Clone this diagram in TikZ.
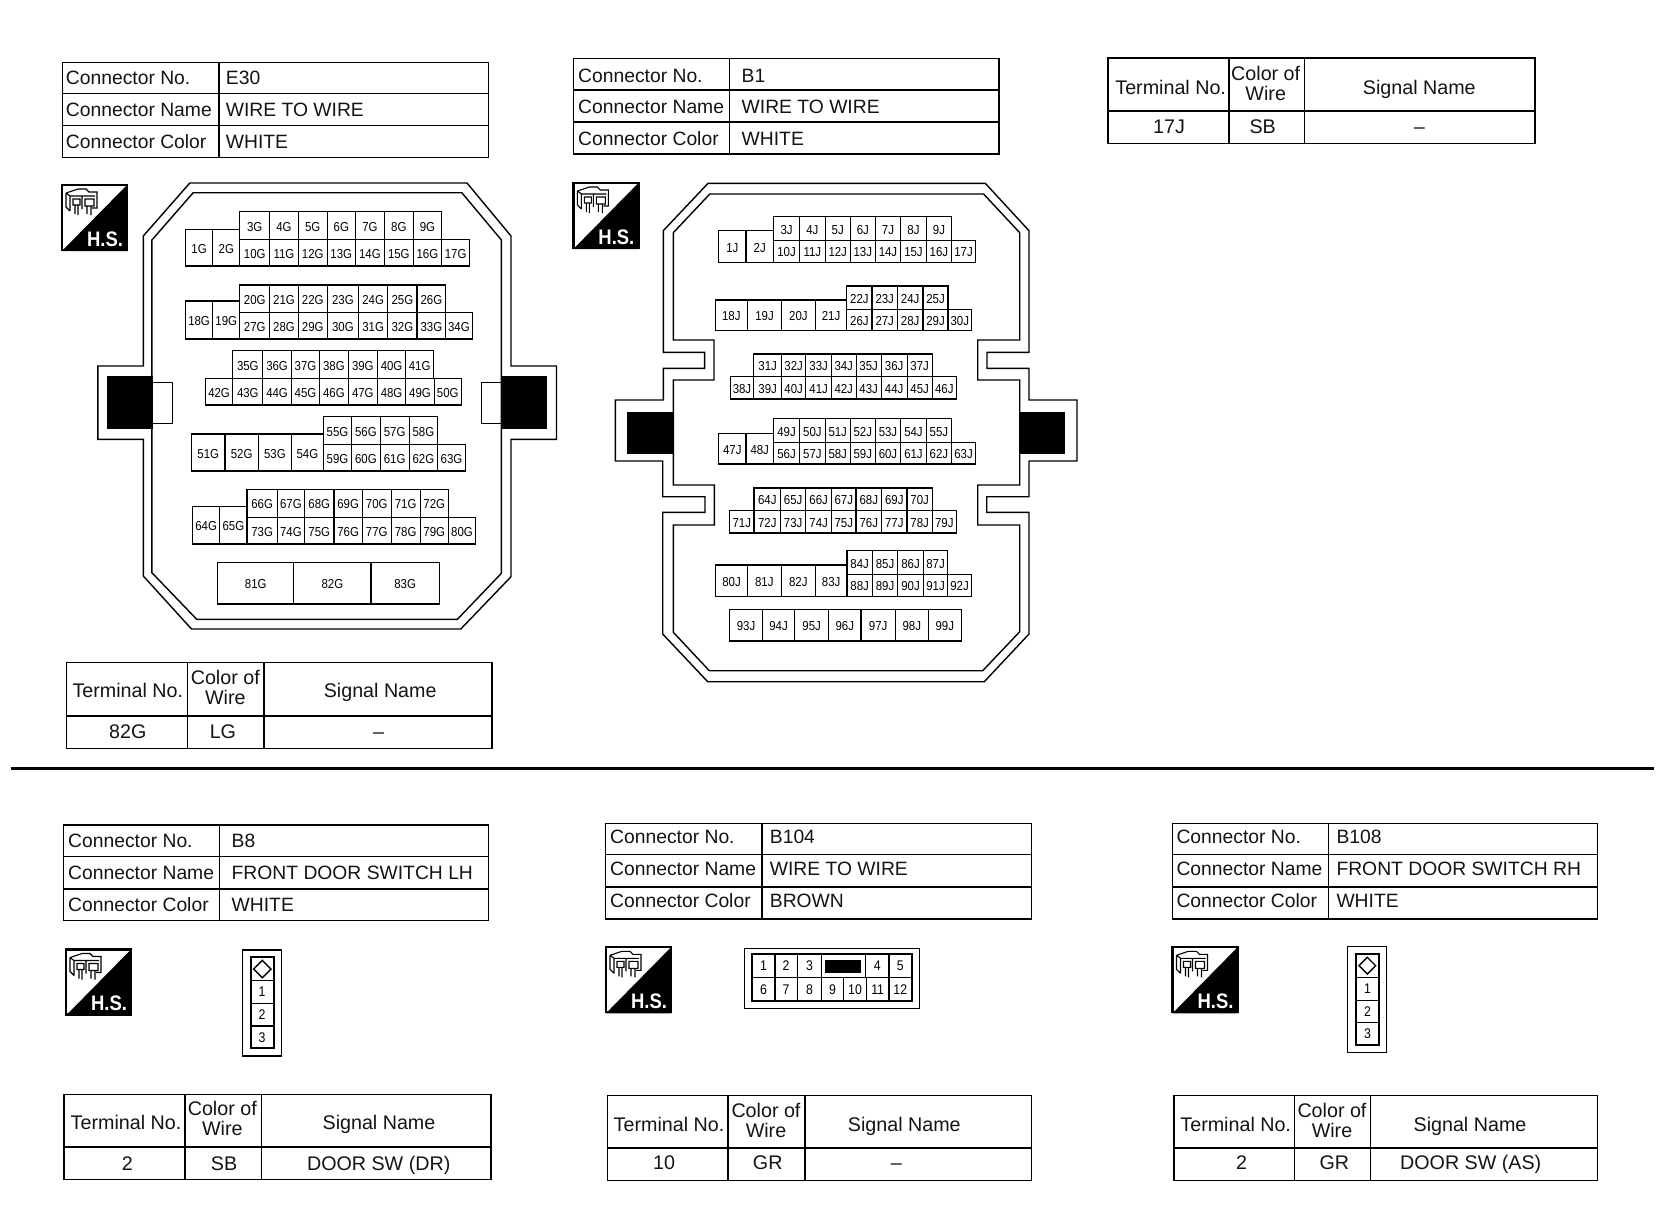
\documentclass[tikz,border=0pt]{standalone}
\usepackage{fontspec}
\setmainfont{Liberation Sans}
\newfontfamily\cellfont[FakeStretch=0.88]{Liberation Sans}
\newfontfamily\hsfont[FakeStretch=0.88]{Liberation Sans Bold}
\tikzset{
  lab/.style={font=\fontsize{19.3}{19.3}\selectfont,text height=13.8pt,text depth=0pt,inner sep=0pt,text=black!92},
  labt/.style={font=\fontsize{19.7}{19.7}\selectfont,text height=14pt,text depth=0pt,inner sep=0pt,text=black!92},
  cell/.style={draw,line width=1.2pt,inner sep=0pt,text height=11.3pt,text depth=0pt,font=\cellfont\fontsize{13}{13}\selectfont},
  bigcell/.style={cell/.append style={line width=1.3pt,text height=9.8pt,font=\cellfont\fontsize{14}{14}\selectfont}},
  tbl/.style={line width=1.5pt},
  tblmid/.style={line width=2.2pt},
  contour/.style={line width=1.4pt,line join=miter},
  hstxt/.style={font=\hsfont\fontsize{21}{21}\selectfont,text=white,inner sep=0pt,text height=15pt,text depth=0pt},
}
% cell row: prefix, y0, y1, x0, list of label/xend
\newcommand\cellrow[5]{%
  \foreach \lbl/\xe [remember=\xe as \xs (initially #4)] in {#5}{%
    \pgfmathsetmacro\cw{(\xe-\xs)*\sx}%
    \pgfmathsetmacro\ch{(#3-#2)*\sy}%
    \node[cell,minimum width=\cw pt,minimum height=\ch pt] (#1\lbl) at ({(\xs+\xe)/2},{(#2+#3)/2}) {\lbl};
  }}
\def\gdy{0}
\newcommand\setG[9]{\def\gxa{#1}\def\gxb{#2}\def\gxc{#3}\def\gya{#4}\def\gyb{#5}\def\gyc{#6}\def\gyd{#7}\def\glx{#8}\def\grx{#9}}
\newcommand\conntable[4]{%
  \draw[tbl] (\gxa,\gya) rectangle (\gxc,\gyd);
  \draw[tbl] (\gxb,\gya) -- (\gxb,\gyd) (\gxa,\gyb) -- (\gxc,\gyb) (\gxa,\gyc) -- (\gxc,\gyc);
  \node[lab,anchor=west] (#1noL) at (\glx,{(\gya+\gyb)/2+\gdy}) {Connector No.};
  \node[lab,anchor=west] (#1naL) at (\glx,{(\gyb+\gyc)/2+\gdy}) {Connector Name};
  \node[lab,anchor=west] (#1coL) at (\glx,{(\gyc+\gyd)/2+\gdy}) {Connector Color};
  \node[lab,anchor=west] (#1noV) at (\grx,{(\gya+\gyb)/2+\gdy}) {#2};
  \node[lab,anchor=west] (#1naV) at (\grx,{(\gyb+\gyc)/2+\gdy}) {#3};
  \node[lab,anchor=west] (#1coV) at (\grx,{(\gyc+\gyd)/2+\gdy}) {#4};
}
\newcommand\setT[7]{\def\txa{#1}\def\txb{#2}\def\txc{#3}\def\txd{#4}\def\tya{#5}\def\tyb{#6}\def\tyc{#7}}
\newcommand\setL[8]{\def\lxt{#1}\def\lxc{#2}\def\lxs{#3}\def\lyh{#4}\def\lxv{#5}\def\lxw{#6}\def\lxd{#7}\def\lyv{#8}}
\newcommand\termtable[4]{%
  \draw[tbl] (\txa,\tya) rectangle (\txd,\tyc);
  \draw[tbl] (\txb,\tya) -- (\txb,\tyc) (\txc,\tya) -- (\txc,\tyc);
  \draw[tblmid] (\txa,\tyb) -- (\txd,\tyb);
  \node[labt] (#1tn) at (\lxt,{\lyh+4}) {Terminal No.};
  \node[labt] (#1cw) at (\lxc,{\lyh-9.5}) {Color of};
  \node[labt] (#1wi) at (\lxc,{\lyh+10.5}) {Wire};
  \node[labt] (#1sn) at (\lxs,{\lyh+4}) {Signal Name};
  \node[labt] (#1va) at (\lxv,\lyv) {#2};
  \node[labt] (#1wv) at (\lxw,\lyv) {#3};
  \node[labt] (#1sv) at (\lxd,\lyv) {#4};
}
\newcommand\hsicon[3]{%
  \begin{scope}[shift={(#2,#3)}]
    \fill[white] (0,0) rectangle (67,67);
    \fill[black] (66,1) -- (66,67) -- (1,67) -- cycle;
    \draw[line width=2.2pt] (1,1) rectangle (66,66);
    \draw[line width=1.1pt] (5,9) -- (14,6) -- (17,5) -- (25,5) -- (28,8) -- (36,8) -- (36,24) -- (31,24)
      (5,9) -- (5,23) -- (9,27) (5,9) -- (9,12) -- (34,12)
      (9,12) -- (9,27) (21,12) -- (21,25)
      (12,15) -- (19,15) -- (19,21) -- (12,21) -- cycle
      (24,15) -- (33,15) -- (33,22) -- (24,22) -- cycle
      (14,21) -- (14,30) (17,21) -- (17,31) (26,22) -- (26,30) (30,22) -- (30,31);
    \node[hstxt] (#1hs) at (44,54.5) {H.S.};
  \end{scope}}
\begin{document}
\begin{tikzpicture}[x=1pt,y=-1pt]
\useasboundingbox (0,0) rectangle (1660,1216);
\fill[white] (0,0) rectangle (1660,1216);

% ---------- header tables
\setG{62.7}{219}{488.3}{62.3}{93.7}{125.7}{157.7}{65.7}{225.7}
\conntable{E}{E30}{WIRE TO WIRE}{WHITE}
\def\gdy{1}
\setG{573.3}{729.3}{999}{58.3}{90}{122}{154}{578}{741.5}
\conntable{Bone}{B1}{WIRE TO WIRE}{WHITE}
\def\gdy{0}
\setG{63.3}{219.3}{488.7}{825}{856.7}{889}{920.3}{68}{231.5}
\conntable{Beight}{B8}{FRONT DOOR SWITCH LH}{WHITE}
\def\gdy{-2.7}
\setG{605.7}{762}{1031.3}{823.7}{854.7}{887}{919}{610}{769.7}
\conntable{Bhun}{B104}{WIRE TO WIRE}{BROWN}
\setG{1172.7}{1328.3}{1597.3}{823.7}{854.7}{887}{919}{1176.3}{1336.3}
\conntable{Bhune}{B108}{FRONT DOOR SWITCH RH}{WHITE}
\def\gdy{0}

% ---------- terminal tables
\setT{66.5}{187.4}{263.8}{492}{662.3}{715.7}{748.3}
\setL{127.8}{225.3}{380.2}{686.7}{127.8}{222.9}{378.5}{731.7}
\termtable{Et}{82G}{LG}{–}
\setT{1108}{1229}{1304.3}{1535}{58}{111.3}{143.7}
\setL{1170.7}{1265.7}{1419.3}{83.3}{1169}{1262.7}{1419.3}{126}
\termtable{Bonet}{17J}{SB}{–}
\setT{64}{185}{261.3}{491}{1094.3}{1146.7}{1179.3}
\setL{126}{222.3}{379}{1118.3}{127.3}{224}{378.7}{1163.8}
\termtable{Beightt}{2}{SB}{DOOR SW (DR)}
\setT{607.3}{728}{805}{1031.3}{1095.3}{1148}{1180.7}
\setL{669}{766}{904.3}{1120}{664}{767.7}{896.3}{1162.3}
\termtable{Bhunt}{10}{GR}{–}
\setT{1174}{1294.3}{1370.7}{1597.3}{1095.3}{1148}{1180.7}
\setL{1235.7}{1332}{1470}{1120}{1241.7}{1334.3}{1470.7}{1162.3}
\termtable{Bhunet}{2}{GR}{DOOR SW (AS)}

% ---------- divider
\coordinate (divL) at (10.6,768.5);
\coordinate (divR) at (1654,768.5);
\draw[line width=2.2pt] (divL) -- (divR);

% ---------- icons
\hsicon{E}{61}{184}
\hsicon{Bone}{572.4}{182}
\hsicon{Beight}{65}{948.5}
\hsicon{Bhun}{605}{946.3}
\hsicon{Bhune}{1171.5}{946.3}

% ---------- E30 housing
\draw[contour] (189.8,183) -- (467,183) -- (511,236) -- (511,366) -- (556.5,366) -- (556.5,439.3) -- (511,439.3) -- (511,576.7) -- (460.8,629) -- (191.5,629) -- (143.3,576) -- (143.3,439.3) -- (97.9,439.3) -- (97.9,366) -- (143.3,366) -- (143.3,236) -- cycle;
\draw[contour] (193.2,192.7) -- (461.8,192.7) -- (501.4,240) -- (501.4,573.3) -- (457.4,619.3) -- (196.7,619.3) -- (151.9,572.7) -- (151.9,240) -- cycle;
\fill (107.1,376) rectangle (152.6,429.3);
\fill (501.4,376) rectangle (546.9,429.3);
\draw[line width=1pt] (152.6,382.3) -- (172.6,382.3) -- (172.6,423.3) -- (152.6,423.3);
\draw[line width=1pt] (501.4,382.3) -- (481.5,382.3) -- (481.5,423.3) -- (501.4,423.3);

% ---------- B1 housing
\draw[contour] (708,183.3) -- (985.3,183.3) -- (1029,230.7) -- (1029,352.3) -- (987,352.3) -- (987,368.3) -- (1029,368.3) -- (1029,400) -- (1077,400) -- (1077,461) -- (1029,461) -- (1029,496.7) -- (986.7,496.7) -- (986.7,512.3) -- (1029,512.3) -- (1029,634) -- (984.3,681.7) -- (707.7,681.7) -- (662.7,634) -- (662.7,512.3) -- (705,512.3) -- (705,496.7) -- (662.7,496.7) -- (662.7,461) -- (615.3,461) -- (615.3,400) -- (663.3,400) -- (663.3,368.3) -- (704.6,368.3) -- (704.6,352.3) -- (663.3,352.3) -- (663.3,230.7) -- cycle;
\draw[contour] (709.8,194) -- (983.6,194) -- (1019.7,232.7) -- (1019.7,340) -- (977.7,340) -- (977.7,380) -- (1019.7,380) -- (1019.7,485) -- (977.7,485) -- (977.7,525) -- (1019.7,525) -- (1019.7,631.7) -- (982.7,670.7) -- (709.3,670.7) -- (673.3,632.3) -- (673.3,525) -- (714.3,525) -- (714.3,485) -- (673.3,485) -- (673.3,380) -- (714,380) -- (714,340) -- (673.3,340) -- (673.3,232.7) -- cycle;
\fill (627,412.3) rectangle (672.6,453.5);
\fill (1019.7,412.3) rectangle (1064.5,453.5);

% ---------- E30 cells (upper)
\begin{scope}[shift={(40,160)},x=0.34435pt,y=-0.33333pt]
\def\sx{0.34435}\def\sy{0.33333}
\cellrow{E}{208}{318}{422}{1G/502,2G/580}
\cellrow{E}{155}{238}{580}{3G/667,4G/750,5G/834,6G/916,7G/1000,8G/1084,9G/1166}
\cellrow{E}{238}{318}{580}{10G/667,11G/750,12G/834,13G/916,14G/1000,15G/1084,16G/1166,17G/1248}
\cellrow{E}{423}{537}{422}{18G/502,19G/580}
\cellrow{E}{375}{458}{580}{20G/667,21G/750,22G/834,23G/925,24G/1010,25G/1095,26G/1178}
\cellrow{E}{458}{537}{580}{27G/667,28G/750,29G/834,30G/925,31G/1010,32G/1095,33G/1178,34G/1255}
\cellrow{E}{572}{655}{560}{35G/647,36G/730,37G/812,38G/895,39G/980,40G/1062,41G/1143}
\cellrow{E}{655}{735}{480}{42G/560,43G/647,44G/730,45G/812,46G/895,47G/980,48G/1062,49G/1145,50G/1223}
\cellrow{E}{822}{933}{440}{51G/537,52G/634,53G/730,54G/823}
\cellrow{E}{770}{853}{823}{55G/905,56G/988,57G/1072,58G/1155}
\cellrow{E}{853}{933}{823}{59G/905,60G/988,61G/1072,62G/1155,63G/1235}
\end{scope}
% ---------- E30 cells (lower)
\begin{scope}[shift={(40,400)},x=0.34435pt,y=-0.33333pt]
\def\sx{0.34435}\def\sy{0.33333}
\cellrow{E}{320}{432}{443}{64G/522,65G/601}
\cellrow{E}{268}{352}{601}{66G/689,67G/768,68G/854,69G/936,70G/1020,71G/1104,72G/1186}
\cellrow{E}{352}{432}{601}{73G/689,74G/768,75G/854,76G/936,77G/1020,78G/1104,79G/1186,80G/1265}
\cellrow{E}{488}{612}{516}{81G/737,82G/961,83G/1160}
\end{scope}
% ---------- B1 cells (upper)
\begin{scope}[shift={(560,160)},x=0.34435pt,y=-0.33333pt]
\def\sx{0.34435}\def\sy{0.33333}
\cellrow{B}{212}{307}{461}{1J/540,2J/620}
\cellrow{B}{170}{241}{620}{3J/696,4J/770,5J/843,6J/916,7J/989,8J/1064,9J/1137}
\cellrow{B}{241}{307}{620}{10J/696,11J/770,12J/843,13J/916,14J/989,15J/1064,16J/1137,17J/1207}
\cellrow{B}{420}{512}{451}{18J/544,19J/644,20J/741,21J/833}
\cellrow{B}{378}{448}{833}{22J/906,23J/980,24J/1054,25J/1127}
\cellrow{B}{448}{512}{833}{26J/906,27J/980,28J/1054,29J/1127,30J/1195}
\cellrow{B}{582}{650}{563}{31J/643,32J/714,33J/788,34J/860,35J/933,36J/1008,37J/1081}
\cellrow{B}{650}{717}{494}{38J/563,39J/643,40J/714,41J/788,42J/860,43J/933,44J/1008,45J/1081,46J/1151}
\cellrow{B}{821}{912}{461}{47J/540,48J/620}
\cellrow{B}{776}{848}{620}{49J/696,50J/770,51J/843,52J/916,53J/989,54J/1064,55J/1137}
\cellrow{B}{848}{912}{620}{56J/696,57J/770,58J/843,59J/916,60J/989,61J/1064,62J/1137,63J/1207}
\end{scope}
% ---------- B1 cells (lower)
\begin{scope}[shift={(600,400)},x=0.33333pt,y=-0.33333pt]
\def\sx{0.33333}\def\sy{0.33333}
\cellrow{B}{264}{332}{462}{64J/542,65J/617,66J/695,67J/768,68J/845,69J/921,70J/997}
\cellrow{B}{332}{399}{389}{71J/462,72J/542,73J/617,74J/695,75J/768,76J/845,77J/921,78J/997,79J/1069}
\cellrow{B}{495}{589}{347}{80J/442,81J/544,82J/646,83J/741}
\cellrow{B}{452}{523}{741}{84J/817,85J/893,86J/970,87J/1043}
\cellrow{B}{523}{589}{741}{88J/817,89J/893,90J/970,91J/1043,92J/1114}
\cellrow{B}{628}{723}{389}{93J/487,94J/584,95J/686,96J/783,97J/886,98J/985,99J/1084}
\end{scope}

% ---------- B8 connector
\begin{scope}[shift={(50,940)},x=0.33333pt,y=-0.33333pt,bigcell]
\def\sx{0.33333}\def\sy{0.33333}
\draw[line width=1.4pt] (578,30) rectangle (694,348);
\node[cell,minimum width=23pt,minimum height=23.3pt] (BeightD) at (636.5,87) {};
\draw[line width=1.4pt] (611,87) -- (637,61) -- (663,87) -- (637,113) -- cycle;
\cellrow{Beight}{122}{190}{602}{1/671}
\cellrow{Beight}{190}{258}{602}{2/671}
\cellrow{Beight}{258}{325}{602}{3/671}
\draw[line width=2pt] (602,52) rectangle (671,325);
\end{scope}

% ---------- B108 connector
\begin{scope}[shift={(1160,820)},x=0.33333pt,y=-0.33333pt,bigcell]
\def\sx{0.33333}\def\sy{0.33333}
\draw[line width=1.4pt] (563,380) rectangle (680,697);
\node[cell,minimum width=23.7pt,minimum height=23.7pt] (BhuneD) at (622.5,436.5) {};
\draw[line width=1.4pt] (597,437) -- (622,412) -- (647,437) -- (622,462) -- cycle;
\cellrow{Bhune}{472}{541}{587}{1/658}
\cellrow{Bhune}{541}{607}{587}{2/658}
\cellrow{Bhune}{607}{675}{587}{3/658}
\draw[line width=2pt] (587,401) rectangle (658,675);
\end{scope}

% ---------- B104 connector
\begin{scope}[shift={(600,940)},x=0.33333pt,y=-0.33333pt,bigcell]
\def\sx{0.33333}\def\sy{0.33333}
\draw[line width=1.4pt] (433,25) rectangle (959,205);
\cellrow{Bhun}{43}{113}{457}{1/525,2/592,3/665}
\node[cell,minimum width=44pt,minimum height=23.3pt] (Bhunblank) at (731,78) {};
\fill (676,61) rectangle (783,99);
\cellrow{Bhun}{43}{113}{797}{4/867,5/935}
\cellrow{Bhun}{113}{182}{457}{6/525,7/592,8/665,9/731,10/799,11/867,12/935}
\draw[line width=2pt] (457,43) rectangle (935,182);
\end{scope}
\end{tikzpicture}
\end{document}
